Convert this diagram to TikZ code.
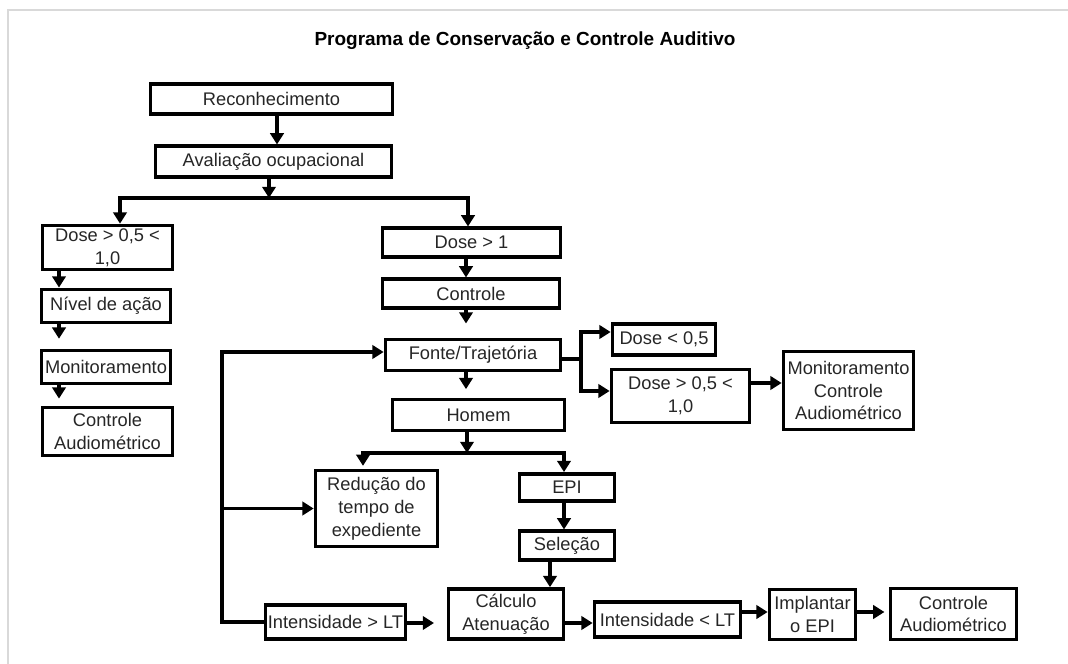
\documentclass[tikz,border=0pt]{standalone}
\usepackage{fontspec}
\setmainfont{Liberation Sans}
\usepackage{tikz}
\usetikzlibrary{positioning,arrows.meta}

\begin{document}
\begin{tikzpicture}[x=0.025cm,y=-0.025cm,
  box/.style={draw,line width=2.6pt,inner sep=1pt,align=center,text=black!85,
    font=\fontsize{13}{16.3}\selectfont},
  arr/.style={line width=2.2pt,-{Triangle[length=8pt,width=9.5pt]}},
  lin/.style={line width=2.2pt}]
\useasboundingbox (0,0) rectangle (1068,664);
\draw[black!15,line width=1pt] (8,664) -- (8,10) -- (1068,10);
\node (titulo) at (525,41) {\fontsize{13.5}{16}\selectfont\bfseries Programa de Conservação e Controle Auditivo};

% coluna do topo
\node[box,minimum width=6.05cm,minimum height=0.74cm] (rec) at (271.5,99) {Reconhecimento};
\node[box,minimum width=5.9cm,minimum height=0.76cm] (aval) at (273.5,161.5) {Avaliação ocupacional};

% ramo esquerdo
\node[box,minimum width=3.25cm,minimum height=1.1cm] (doseA) at (107.5,247.5) {Dose > 0,5 <\\1,0};
\node[box,minimum width=3.225cm,minimum height=0.83cm] (nivel) at (106,306) {Nível de ação};
\node[box,minimum width=3.225cm,minimum height=0.83cm] (monit) at (106,367) {Monitoramento};
\node[box,minimum width=3.25cm,minimum height=1.2cm] (audioA) at (107.5,431.5) {Controle\\Audiométrico};

% ramo direito
\node[box,minimum width=4.45cm,minimum height=0.71cm] (doseB) at (471.5,242.5) {Dose > 1};
\node[box,minimum width=4.425cm,minimum height=0.71cm] (contr) at (471,293.5) {Controle};
\node[box,minimum width=4.375cm,minimum height=0.78cm] (fonte) at (473,355) {Fonte/Trajetória};
\node[box,minimum width=4.3cm,minimum height=0.78cm] (homem) at (478.5,415) {Homem};
\node[box,minimum width=2.575cm,minimum height=0.76cm] (doseC) at (664,339.5) {Dose < 0,5};
\node[box,minimum width=3.45cm,minimum height=1.33cm] (doseD) at (680.5,396) {Dose > 0,5 <\\1,0};
\node[box,minimum width=3.25cm,minimum height=1.95cm] (monctrl) at (848.5,390.5) {Monitoramento\\Controle\\Audiométrico};
\node[box,minimum width=3.05cm,minimum height=1.9cm] (reduc) at (376.5,508.5) {Redução do\\tempo de\\expediente};
\node[box,minimum width=2.375cm,minimum height=0.68cm] (epi) at (567,487.5) {EPI};
\node[box,minimum width=2.375cm,minimum height=0.71cm] (selec) at (567,545.5) {Seleção};
\node[box,minimum width=2.875cm,minimum height=1.25cm] (calc) at (506,614) {Cálculo\\Atenuação};
\node[box,minimum width=3.5cm,minimum height=0.86cm] (intgt) at (335.5,622) {Intensidade > LT};
\node[box,minimum width=3.65cm,minimum height=0.86cm] (intlt) at (667.5,619.5) {Intensidade < LT};
\node[box,minimum width=2.15cm,minimum height=1.25cm] (impl) at (812.5,614.5) {Implantar\\o EPI};
\node[box,minimum width=3.15cm,minimum height=1.28cm] (audioB) at (953.5,614) {Controle\\Audiométrico};

\coordinate (c1) at (277,0);
\coordinate (sp) at (269,198);
\coordinate (xl) at (59,0);
\coordinate (spl) at (120,0);
\coordinate (spr) at (468,0);
\coordinate (xr) at (466,0);
\coordinate (sp2) at (467,453);
\coordinate (x2l) at (363,0);
\coordinate (x2r) at (564,0);
\coordinate (xs) at (550,0);
\coordinate (br) at (581,359);
\coordinate (yc) at (0,332);
\coordinate (yd) at (0,391);
\coordinate (ym) at (0,383);
\coordinate (fb) at (222,0);
\coordinate (yf) at (0,352);
\coordinate (yb) at (0,623);
\coordinate (yi) at (0,612);

\draw[arr] (rec.south -| c1) -- (aval.north -| c1);
\draw[arr] (aval.south -| sp) -- (sp);
\draw[arr] (sp) -| (spl |- doseA.north);
\draw[arr] (sp) -| (spr |- doseB.north);

\draw[arr] (doseA.south -| xl) -- (nivel.north -| xl);
\draw[arr,shorten >=7pt] (nivel.south -| xl) -- (monit.north -| xl);
\draw[arr,shorten >=5pt] (monit.south -| xl) -- (audioA.north -| xl);

\draw[arr] (doseB.south -| xr) -- (contr.north -| xr);
\draw[arr,shorten >=10pt] (contr.south -| xr) -- (fonte.north -| xr);
\draw[arr,shorten >=6pt] (fonte.south -| xr) -- (homem.north -| xr);

\draw[lin] (fonte.east |- br) -- (br);
\draw[arr] (br) |- (doseC.west |- yc);
\draw[arr] (br) |- (doseD.west |- yd);
\draw[arr] (doseD.east |- ym) -- (monctrl.west |- ym);

\draw[arr] (homem.south -| sp2) -- (sp2);
\draw[arr,shorten >=2pt] (sp2) -| (x2l |- reduc.north);
\draw[arr] (sp2) -| (x2r |- epi.north);
\draw[arr] (epi.south -| x2r) -- (selec.north -| x2r);
\draw[arr] (selec.south -| xs) -- (calc.north -| xs);

\draw[arr] (intgt.west) -| (fb |- yf) -- (fonte.west |- yf);
\draw[arr] (fb |- reduc.west) -- (reduc.west);
\draw[arr,shorten >=9pt] (intgt.east |- yb) -- (calc.west |- yb);
\draw[arr] (calc.east |- yb) -- (intlt.west |- yb);
\draw[arr] (intlt.east |- yi) -- (impl.west |- yi);
\draw[arr,shorten >=3pt] (impl.east |- yi) -- (audioB.west |- yi);
\end{tikzpicture}
\end{document}
